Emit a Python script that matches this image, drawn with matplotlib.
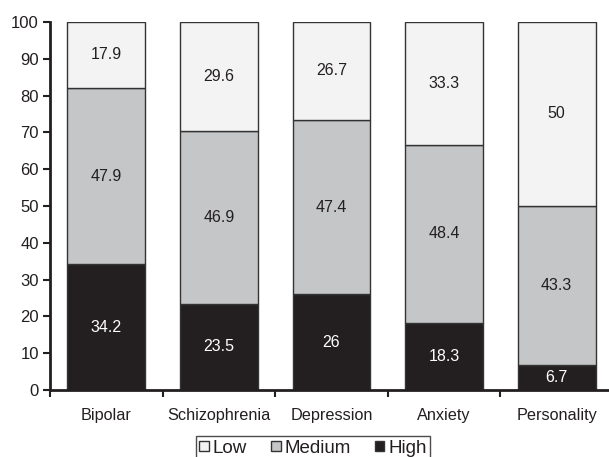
import matplotlib
matplotlib.use("Agg")
import matplotlib.pyplot as plt
from matplotlib.patches import Patch
import numpy as np

plt.rcParams['font.family'] = ['Liberation Sans', 'DejaVu Sans']

categories = ["Bipolar", "Schizophrenia", "Depression", "Anxiety", "Personality"]
high = [34.2, 23.5, 26, 18.3, 6.7]
medium = [47.9, 46.9, 47.4, 48.4, 43.3]
low = [17.9, 29.6, 26.7, 33.3, 50]
high_labels = ["34.2", "23.5", "26", "18.3", "6.7"]
medium_labels = ["47.9", "46.9", "47.4", "48.4", "43.3"]
low_labels = ["17.9", "29.6", "26.7", "33.3", "50"]

c_low = "#f3f3f3"
c_med = "#c5c6c8"
c_high = "#231f20"
edge = "#333333"
txt = "#231f20"

fig = plt.figure(figsize=(6.09, 4.57), dpi=100)
W, H = 609, 457
left, right, top, bottom = 50, 613, 22, 390
ax = fig.add_axes([left / W, 1 - bottom / H, (right - left) / W, (bottom - top) / H])

x = np.arange(len(categories))
bw = 0.69
ax.bar(x, high, bw, color=c_high, edgecolor=edge, linewidth=1)
ax.bar(x, medium, bw, bottom=high, color=c_med, edgecolor=edge, linewidth=1)
ax.bar(x, low, bw, bottom=np.array(high) + np.array(medium), color=c_low, edgecolor=edge, linewidth=1)

for i in range(len(categories)):
    ax.text(x[i], high[i] / 2, high_labels[i], ha='center', va='center', color='white', fontsize=11.5)
    ax.text(x[i], high[i] + medium[i] / 2, medium_labels[i], ha='center', va='center', color=txt, fontsize=11.5)
    ax.text(x[i], high[i] + medium[i] + low[i] / 2, low_labels[i], ha='center', va='center', color=txt, fontsize=11.5)

ax.set_xlim(-0.5, len(categories) - 0.5)
ax.set_ylim(0, 100)
ax.set_yticks(np.arange(0, 101, 10))
ax.set_xticks(x)
ax.set_xticklabels(categories)
ax.set_xticks(np.arange(-0.5, len(categories), 1.0), minor=True)
ax.tick_params(axis='x', which='major', length=0, pad=13, labelsize=11.7, colors=txt)
ax.tick_params(axis='x', which='minor', length=5, width=1.5, direction='out', color=txt)
ax.tick_params(axis='y', length=5, width=1.5, direction='out', labelsize=12, colors=txt, pad=3)
for s in ['top', 'right']:
    ax.spines[s].set_visible(False)
for s in ['left', 'bottom']:
    ax.spines[s].set_linewidth(2)
    ax.spines[s].set_color(txt)

handles = [Patch(facecolor=c_low, edgecolor=edge), Patch(facecolor=c_med, edgecolor=edge),
           Patch(facecolor=c_high, edgecolor=edge)]
leg = fig.legend(handles, ["Low", "Medium", "High"], loc='upper center',
                 bbox_to_anchor=(313 / W, 1 - 436 / H), ncol=3, frameon=True, fancybox=False,
                 fontsize=13.5, handlelength=0.5, handleheight=0.5, handletextpad=0.2,
                 columnspacing=1.3, borderpad=0.2, borderaxespad=0)
leg.get_frame().set_edgecolor(txt)
leg.get_frame().set_linewidth(1)
for t in leg.get_texts():
    t.set_color(txt)

fig.savefig("out.png", dpi=100)
